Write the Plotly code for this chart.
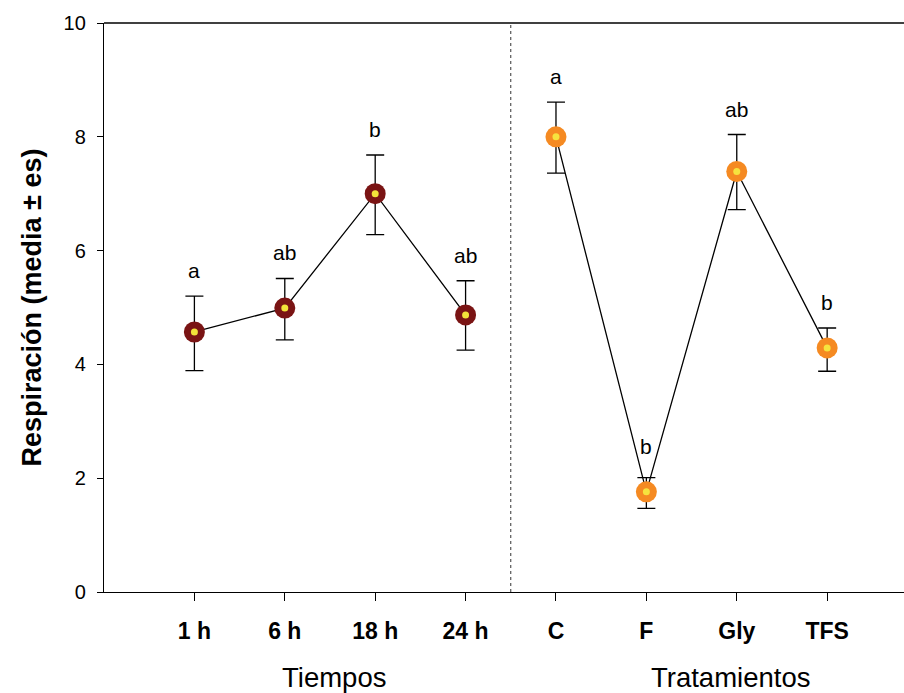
import plotly.graph_objects as go

# Respiration means with standard error, by time and by treatment
tiempos = ["1 h", "6 h", "18 h", "24 h"]
tiempos_media = [4.57, 4.99, 7.00, 4.87]
tiempos_es_sup = [0.63, 0.52, 0.68, 0.60]
tiempos_es_inf = [0.68, 0.56, 0.72, 0.62]
tiempos_letras = ["a", "ab", "b", "ab"]

tratamientos = ["C", "F", "Gly", "TFS"]
trat_media = [8.00, 1.76, 7.39, 4.29]
trat_es_sup = [0.61, 0.25, 0.65, 0.35]
trat_es_inf = [0.64, 0.29, 0.67, 0.41]
trat_letras = ["a", "b", "ab", "b"]

y_ticks = [0, 2, 4, 6, 8, 10]

FONT = "Liberation Sans, Arial, sans-serif"

x_t = list(range(len(tiempos)))
x_tr = [len(tiempos) + i for i in range(len(tratamientos))]

fig = go.Figure()


def add_group(xs, means, up, down, outer, inner):
    fig.add_trace(go.Scatter(
        x=xs, y=means, mode="lines",
        line=dict(color="black", width=1.3),
        error_y=dict(type="data", symmetric=False, array=up, arrayminus=down,
                     color="black", thickness=1.3, width=9),
        hoverinfo="skip", showlegend=False,
    ))
    fig.add_trace(go.Scatter(
        x=xs, y=means, mode="markers",
        marker=dict(size=21, color=outer, line=dict(width=0)),
        showlegend=False,
    ))
    fig.add_trace(go.Scatter(
        x=xs, y=means, mode="markers",
        marker=dict(size=7, color=inner, line=dict(width=0)),
        showlegend=False,
    ))


add_group(x_t, tiempos_media, tiempos_es_sup, tiempos_es_inf, "#7A1414", "#F2E33A")
add_group(x_tr, trat_media, trat_es_sup, trat_es_inf, "#F58A22", "#F6E33E")

# significance letters above the upper error bar
for xs, means, up, letters in [(x_t, tiempos_media, tiempos_es_sup, tiempos_letras),
                               (x_tr, trat_media, trat_es_sup, trat_letras)]:
    for x, m, u, t in zip(xs, means, up, letters):
        fig.add_annotation(x=x, y=m + u, text=t, showarrow=False,
                           yanchor="bottom", yshift=12 if u > 0.3 else 18,
                           font=dict(family=FONT, size=21, color="black"))

# dotted separator between the two groups
sep = (len(tiempos) - 1 + len(tiempos)) / 2
fig.add_shape(type="line", x0=sep, x1=sep, y0=0, y1=10, xref="x", yref="y",
              line=dict(color="#333333", width=1, dash="dot"))

# top border line
fig.add_shape(type="line", x0=0, x1=1, y0=1, y1=1, xref="paper", yref="paper",
              line=dict(color="black", width=1.3))

fig.add_annotation(x=(x_t[0] + x_t[-1]) / 2 + 0.04, y=-0.151, xref="x", yref="paper",
                   text="Tiempos", showarrow=False, yanchor="middle",
                   font=dict(family=FONT, size=27.5, color="black"))
fig.add_annotation(x=(x_tr[0] + x_tr[-1]) / 2 + 0.43, y=-0.151, xref="x", yref="paper",
                   text="Tratamientos", showarrow=False, yanchor="middle",
                   font=dict(family=FONT, size=27.5, color="black"))

fig.update_layout(
    width=904, height=693,
    margin=dict(l=104, r=0, t=23, b=101),
    plot_bgcolor="white", paper_bgcolor="white",
    font=dict(family=FONT, color="black"),
    xaxis=dict(
        range=[-1, 7.85], tickmode="array", tickvals=x_t + x_tr,
        ticktext=["<b>%s</b>" % t for t in tiempos + tratamientos],
        tickfont=dict(family=FONT, size=23, color="black"),
        ticks="outside", ticklen=8, tickwidth=1.3, tickcolor="black",
        showline=True, linecolor="black", linewidth=1.3,
        showgrid=False, zeroline=False, ticklabelstandoff=10,
    ),
    yaxis=dict(
        range=[0, 10], tickmode="array", tickvals=y_ticks,
        tickfont=dict(family=FONT, size=20, color="black"),
        ticks="outside", ticklen=6, tickwidth=1.3, tickcolor="black",
        showline=True, linecolor="black", linewidth=1.3,
        showgrid=False, zeroline=False, ticklabelstandoff=7,
        title=dict(text="<b>Respiración (media ± es)</b>", standoff=14,
                   font=dict(family=FONT, size=27, color="black")),
    ),
)

fig.write_html("out.html")
